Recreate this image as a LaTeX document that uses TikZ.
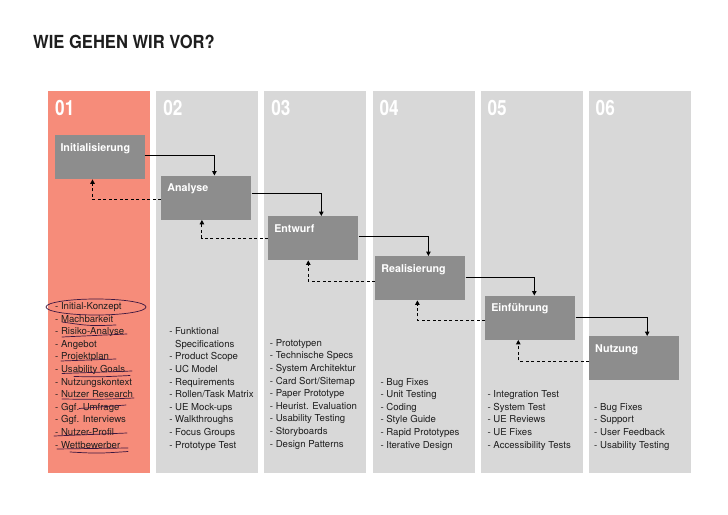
\documentclass[tikz,border=0pt]{standalone}
\usepackage{fontspec}
\setmainfont{TeX Gyre Heros}
\newfontfamily\titlefont[FakeStretch=0.92]{TeX Gyre Heros}
\newfontfamily\numfont[FakeStretch=0.82]{TeX Gyre Heros}
\usepackage{tikz}
\usetikzlibrary{arrows.meta,positioning}
\definecolor{salmon}{HTML}{F68C7A}
\definecolor{colgray}{HTML}{D8D8D8}
\definecolor{boxgray}{HTML}{8D8D8D}
\definecolor{ink}{HTML}{1E1E1E}
\definecolor{pencolor}{HTML}{3B1640}

\begin{document}
\begin{tikzpicture}[
    x=1pt, y=-1pt,
    col/.style={fill=colgray, minimum width=102pt, minimum height=381.7pt, inner sep=0pt},
    firstcol/.style={col, fill=salmon},
    num/.style={anchor=base west, inner sep=0pt, text=white, font=\numfont\bfseries\fontsize{21}{21}\selectfont},
    box/.style={fill=boxgray, text=white, font=\bfseries\fontsize{10.7}{12}\selectfont, align=left, inner xsep=6pt, inner ysep=0pt, text width=78pt, text height=16pt, text depth=28pt},
    items/.style={anchor=south west, inner sep=0pt, align=left, text=ink, font=\fontsize{9.6}{12.6}\selectfont},
    arr/.style={-{Triangle[length=4.5pt,width=4.5pt]}, line width=1pt},
    back/.style={arr, dash pattern=on 3pt off 2.5pt},
    scribble/.style={draw=pencolor, line width=0.7pt, line cap=round}
  ]
    \useasboundingbox (0,0) rectangle (728,514);

    \node[anchor=base west, inner sep=0pt, text=ink, font=\titlefont\bfseries\fontsize{18}{18}\selectfont] (title) at (33,48) {WIE GEHEN WIR VOR?};

    \node[firstcol, anchor=north west] (c1) at (48,91) {};
    \node[col, right=5.7pt of c1] (c2) {};
    \node[col, right=5.7pt of c2] (c3) {};
    \node[col, right=5.7pt of c3] (c4) {};
    \node[col, right=5.7pt of c4] (c5) {};
    \node[col, right=5.7pt of c5] (c6) {};

    \node[num] (n1) at ([xshift=7pt,yshift=-24pt]c1.north west) {01};
    \node[num] (n2) at ([xshift=7pt,yshift=-24pt]c2.north west) {02};
    \node[num] (n3) at ([xshift=7pt,yshift=-24pt]c3.north west) {03};
    \node[num] (n4) at ([xshift=7pt,yshift=-24pt]c4.north west) {04};
    \node[num] (n5) at ([xshift=7pt,yshift=-24pt]c5.north west) {05};
    \node[num] (n6) at ([xshift=7pt,yshift=-24pt]c6.north west) {06};

    \node[box, anchor=north west] (init) at (54.3,135) {Initialisierung};
    \node[box, right=16.5pt of init, yshift=-40.5pt] (ana) {Analyse};
    \node[box, right=16.5pt of ana, yshift=-40.5pt] (entw) {Entwurf};
    \node[box, right=16.7pt of entw, yshift=-40pt] (real) {Realisierung};
    \node[box, right=19.5pt of real, yshift=-39.5pt] (einf) {Einführung};
    \node[box, right=13.5pt of einf, yshift=-40.5pt] (nutz) {Nutzung};

    \draw[arr] ([yshift=2pt]init.east) -| ([xshift=8pt]ana.north);
    \draw[arr] ([yshift=4pt]ana.east) -| ([xshift=8pt]entw.north);
    \draw[arr] ([yshift=2pt]entw.east) -| ([xshift=8pt]real.north);
    \draw[arr] ([yshift=1pt]real.east) -| ([xshift=4pt]einf.north);
    \draw[arr] (einf.east) -| ([xshift=13pt]nutz.north);

    \draw[back] ([yshift=-2pt]ana.west) -| ([xshift=-7pt]init.south);
    \draw[back] (entw.west) -| ([xshift=-4.5pt]ana.south);
    \draw[back] ([yshift=-3pt]real.west) -| ([xshift=-5pt]entw.south);
    \draw[back] ([yshift=-2.5pt]einf.west) -| ([xshift=-3pt]real.south);
    \draw[back] ([yshift=-3pt]nutz.west) -| ([xshift=-12pt]einf.south);

    \node[items] (l1) at ([xshift=7pt,yshift=21pt]c1.south west) {- Initial-Konzept\\- Machbarkeit\\- Risiko-Analyse\\- Angebot\\- Projektplan\\- Usability Goals\\- Nutzungskontext\\- Nutzer Research\\- Ggf. Umfrage\\- Ggf. Interviews\\- Nutzer-Profil\\- Wettbewerber\strut};
    \node[items] (l2) at ([xshift=13pt,yshift=21pt]c2.south west) {- Funktional\\\phantom{- }Specifications\\- Product Scope\\- UC Model\\- Requirements\\- Rollen/Task Matrix\\- UE Mock-ups\\- Walkthroughs\\- Focus Groups\\- Prototype Test\strut};
    \node[items] (l3) at ([xshift=5.5pt,yshift=22pt]c3.south west) {- Prototypen\\- Technische Specs\\- System Architektur\\- Card Sort/Sitemap\\- Paper Prototype\\- Heurist. Evaluation\\- Usability Testing\\- Storyboards\\- Design Patterns\strut};
    \node[items] (l4) at ([xshift=8pt,yshift=21pt]c4.south west) {- Bug Fixes\\- Unit Testing\\- Coding\\- Style Guide\\- Rapid Prototypes\\- Iterative Design\strut};
    \node[items] (l5) at ([xshift=7pt,yshift=21pt]c5.south west) {- Integration Test\\- System Test\\- UE Reviews\\- UE Fixes\\- Accessibility Tests\strut};
    \node[items] (l6) at ([xshift=5.5pt,yshift=21pt]c6.south west) {- Bug Fixes\\- Support\\- User Feedback\\- Usability Testing\strut};

    % pen marks on the first list
    \draw[scribble] (96,307) ellipse [x radius=50pt, y radius=8pt];
    \draw[scribble] (62,322) .. controls (90,326) .. (116,325);
    \draw[scribble] (62,337) .. controls (95,335) .. (127,334);
    \draw[scribble] (61,361) .. controls (88,360) .. (116,359);
    \draw[scribble] (62,373.5) .. controls (97,372) .. (132,371);
    \draw[scribble] (74,376.5) .. controls (100,377) .. (130,375.5);
    \draw[scribble] (62,399) .. controls (98,399.5) .. (134,398);
    \draw[scribble] (79,408.5) .. controls (100,407) .. (126,405);
    \draw[scribble] (54,436) .. controls (90,435) .. (127,433);
    \draw[scribble] (57,449) .. controls (90,448.5) .. (128,448);
    \draw[scribble] (70,452) .. controls (98,453.5) .. (128,451.5);
  \end{tikzpicture}
\end{document}
